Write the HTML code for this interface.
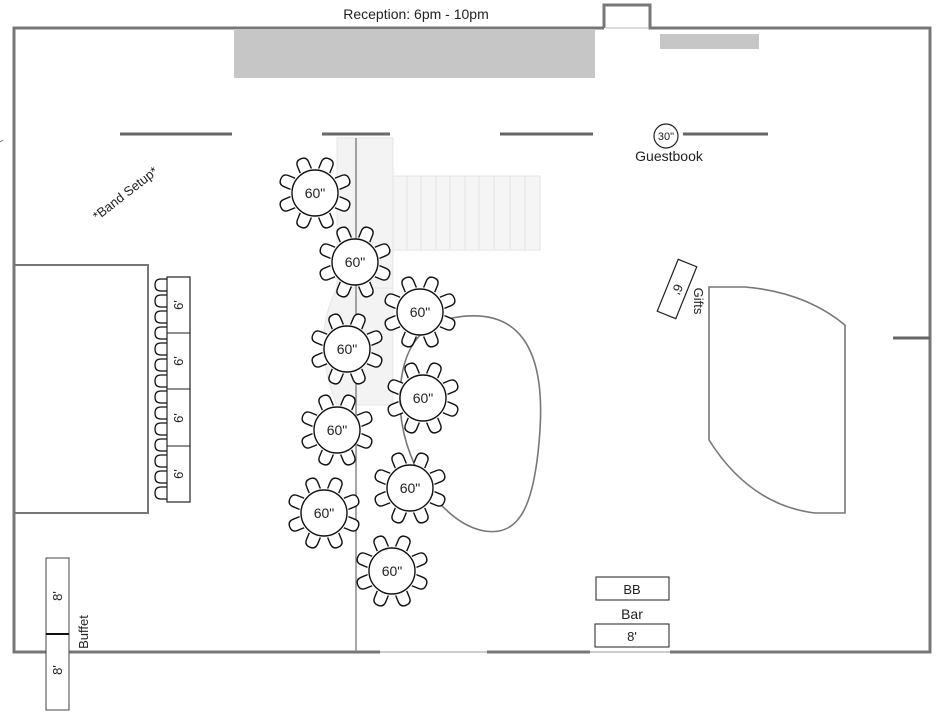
<!DOCTYPE html>
<html><head><meta charset="utf-8"><style>
html,body{margin:0;padding:0;background:#fff;}
svg{display:block;font-family:"Liberation Sans","DejaVu Sans",sans-serif;}
</style></head><body>
<svg width="936" height="712" viewBox="0 0 936 712" xmlns="http://www.w3.org/2000/svg">
<defs>
<path id="ch" d="M-6,-24 L-6,-31 Q-6,-37 0,-37 Q6,-37 6,-31 L6,-24" fill="#fff" stroke="#111" stroke-width="1.4"/>
<g id="tbl">
<use href="#ch" transform="rotate(22.5)"/><use href="#ch" transform="rotate(67.5)"/>
<use href="#ch" transform="rotate(112.5)"/><use href="#ch" transform="rotate(157.5)"/>
<use href="#ch" transform="rotate(202.5)"/><use href="#ch" transform="rotate(247.5)"/>
<use href="#ch" transform="rotate(292.5)"/><use href="#ch" transform="rotate(337.5)"/>
<circle r="23" fill="#fff" stroke="#111" stroke-width="1.4"/>
</g>
<path id="hc" d="M167,0 L161,0 Q155,0 155,6 Q155,12 161,12 L167,12" fill="#fff" stroke="#111" stroke-width="1.3"/>
</defs>

<!-- light background shapes -->
<rect x="337" y="138" width="56" height="150" fill="#f3f3f3" stroke="#e4e4e4"/>
<path d="M337,288 Q310,340 337,405 L393,405 L393,288 Z" fill="#f3f3f3" stroke="#e4e4e4"/>
<rect x="393" y="176" width="147" height="74" fill="#f5f5f5" stroke="#e4e4e4"/>
<g stroke="#e2e2e2">
<line x1="407" y1="176" x2="407" y2="250"/><line x1="421" y1="176" x2="421" y2="250"/>
<line x1="436" y1="176" x2="436" y2="250"/><line x1="450" y1="176" x2="450" y2="250"/>
<line x1="465" y1="176" x2="465" y2="250"/><line x1="479" y1="176" x2="479" y2="250"/>
<line x1="494" y1="176" x2="494" y2="250"/><line x1="510" y1="176" x2="510" y2="250"/>
<line x1="525" y1="176" x2="525" y2="250"/>
</g>

<!-- room -->
<text x="416" y="19" font-size="14" text-anchor="middle" fill="#222">Reception: 6pm - 10pm</text>
<path d="M604,28 L14,28 L14,652 L380,652" fill="none" stroke="#777" stroke-width="3"/>
<path d="M604,28 L604,5 L650,5 L650,28 L930,28 L930,652 L670,652" fill="none" stroke="#777" stroke-width="3"/>
<line x1="487" y1="652" x2="590" y2="652" stroke="#777" stroke-width="3"/>
<line x1="380" y1="652" x2="487" y2="652" stroke="#ccc" stroke-width="2"/>
<line x1="590" y1="652" x2="670" y2="652" stroke="#ccc" stroke-width="2"/>
<line x1="606" y1="28" x2="648" y2="28" stroke="#bbb" stroke-width="1"/>
<rect x="234" y="29" width="361" height="49" fill="#c6c6c6"/>
<rect x="660" y="34" width="99" height="15" fill="#c6c6c6"/>
<g stroke="#666" stroke-width="3">
<line x1="120" y1="134" x2="232" y2="134"/><line x1="322" y1="134" x2="390" y2="134"/>
<line x1="500" y1="134" x2="593" y2="134"/><line x1="683" y1="134" x2="768" y2="134"/>
<line x1="893" y1="338" x2="930" y2="338"/>
</g>
<line x1="0" y1="142" x2="3" y2="140" stroke="#777"/>
<line x1="356" y1="138" x2="356" y2="652" stroke="#888" stroke-width="1.5"/>

<!-- stage -->
<rect x="14" y="265" width="134" height="248" fill="none" stroke="#777" stroke-width="2"/>
<text transform="translate(128,197) rotate(-38)" font-size="13" text-anchor="middle" fill="#222">*Band Setup*</text>

<!-- blobs -->
<path d="M452,318 C520,305 545,350 540,430 C535,505 520,540 480,530 C440,520 400,460 400,400 C400,350 420,325 452,318 Z" fill="none" stroke="#777" stroke-width="1.6"/>
<path d="M709,287 L745,287 Q805,292 845,325 L845,513 L815,513 Q750,505 709,440 Z" fill="none" stroke="#777" stroke-width="1.6"/>

<!-- head table -->
<g>
<use href="#hc" y="279"/><use href="#hc" y="295"/><use href="#hc" y="311"/><use href="#hc" y="327"/>
<use href="#hc" y="343"/><use href="#hc" y="359"/><use href="#hc" y="375"/><use href="#hc" y="391"/>
<use href="#hc" y="407"/><use href="#hc" y="423"/><use href="#hc" y="439"/><use href="#hc" y="455"/>
<use href="#hc" y="471"/><use href="#hc" y="487"/>
</g>
<rect x="167" y="277" width="23" height="225" fill="#fff" stroke="#222" stroke-width="1.2"/>
<g stroke="#222" stroke-width="1"><line x1="167" y1="333" x2="190" y2="333"/><line x1="167" y1="389" x2="190" y2="389"/><line x1="167" y1="446" x2="190" y2="446"/></g>
<g font-size="13" fill="#222" text-anchor="middle">
<text transform="translate(183,305) rotate(-90)">6'</text>
<text transform="translate(183,361) rotate(-90)">6'</text>
<text transform="translate(183,418) rotate(-90)">6'</text>
<text transform="translate(183,474) rotate(-90)">6'</text>
</g>

<!-- round tables -->
<use href="#tbl" x="315" y="193"/><use href="#tbl" x="355" y="262"/>
<use href="#tbl" x="420" y="312"/><use href="#tbl" x="347" y="349"/>
<use href="#tbl" x="423" y="398"/><use href="#tbl" x="337" y="430"/>
<use href="#tbl" x="410" y="488"/><use href="#tbl" x="324" y="513"/>
<use href="#tbl" x="392" y="571"/>
<g font-size="14" fill="#222" text-anchor="middle">
<text x="315" y="198">60"</text><text x="355" y="267">60"</text>
<text x="420" y="317">60"</text><text x="347" y="354">60"</text>
<text x="423" y="403">60"</text><text x="337" y="435">60"</text>
<text x="410" y="493">60"</text><text x="324" y="518">60"</text>
<text x="392" y="576">60"</text>
</g>

<!-- guestbook -->
<circle cx="666" cy="136" r="12" fill="#fff" stroke="#222" stroke-width="1.2"/>
<text x="666" y="140" font-size="11" text-anchor="middle" fill="#222">30"</text>
<text x="669" y="161" font-size="14" text-anchor="middle" fill="#222">Guestbook</text>

<!-- gifts -->
<g transform="translate(677,289) rotate(22)">
<rect x="-10" y="-28" width="20" height="56" fill="#fff" stroke="#222" stroke-width="1.2"/>
<text transform="rotate(90)" x="0" y="4" font-size="13" text-anchor="middle" fill="#222">6'</text>
</g>
<text transform="translate(694,301) rotate(90)" font-size="13" text-anchor="middle" fill="#222">Gifts</text>

<!-- buffet -->
<rect x="46" y="558" width="23" height="152" fill="#fff" stroke="#444" stroke-width="1"/>
<line x1="46" y1="634" x2="69" y2="634" stroke="#111" stroke-width="2"/>
<text transform="translate(62,596) rotate(-90)" font-size="13" text-anchor="middle" fill="#222">8'</text>
<text transform="translate(62,670) rotate(-90)" font-size="13" text-anchor="middle" fill="#222">8'</text>
<text transform="translate(88,632) rotate(-90)" font-size="13" text-anchor="middle" fill="#222">Buffet</text>

<!-- bar -->
<rect x="596" y="577" width="73" height="23" fill="#fff" stroke="#333" stroke-width="1.1"/>
<text x="632" y="594" font-size="13" text-anchor="middle" fill="#222">BB</text>
<text x="632" y="619" font-size="14" text-anchor="middle" fill="#222">Bar</text>
<rect x="595" y="624" width="74" height="23" fill="#fff" stroke="#333" stroke-width="1.1"/>
<text x="632" y="641" font-size="13" text-anchor="middle" fill="#222">8'</text>
</svg>
</body></html>
